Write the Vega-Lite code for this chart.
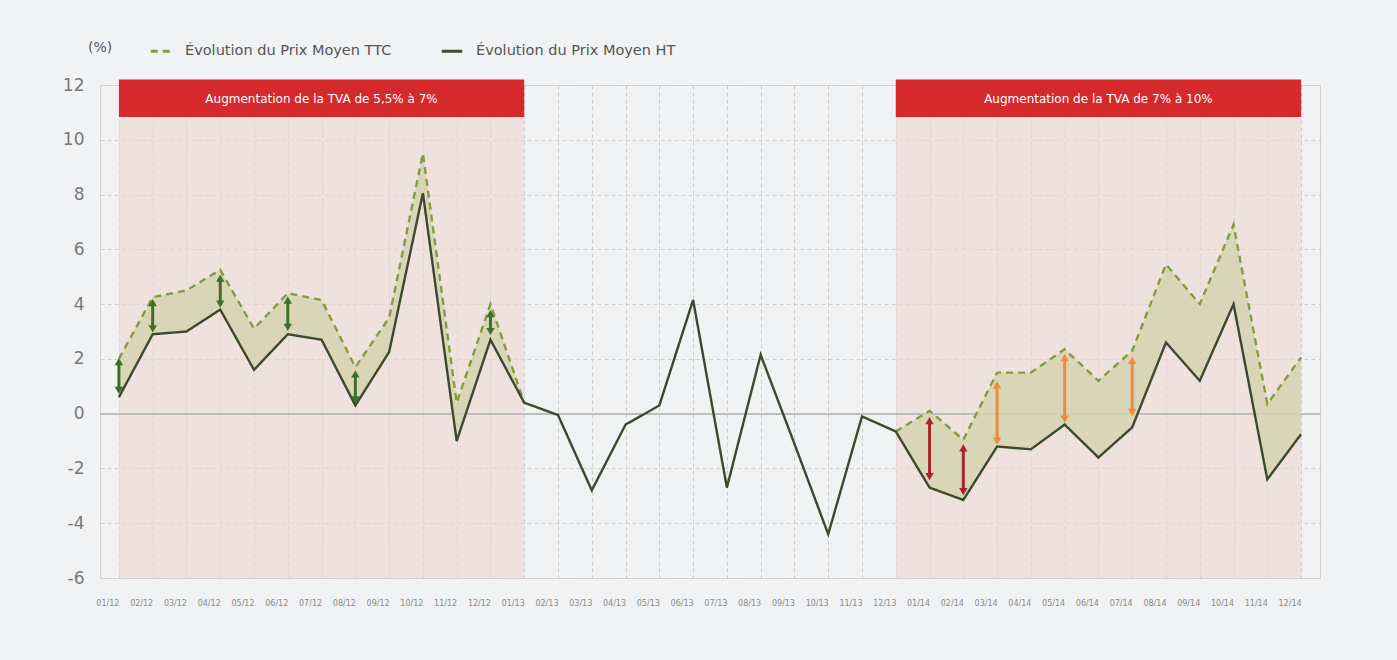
{
  "$schema": "https://vega.github.io/schema/vega-lite/v6.json",
  "width": 1220,
  "height": 493,
  "autosize": {"type": "none"},
  "padding": {"left": 100, "top": 85, "right": 77, "bottom": 82},
  "background": "#f1f2f4",
  "config": {
    "view": {"stroke": "#d2d2d2", "strokeWidth": 1},
    "font": "DejaVu Sans",
    "axis": {"domain": false, "ticks": false, "zindex": 0, "gridColor": "#cdcdcd", "gridDash": [4, 3], "gridWidth": 1, "labelColor": "#777777"}
  },
  "datasets": {
    "rows": [
      {"m": "01/12", "HT": 0.6, "TTC": 2.0, "at": 1.9, "ab": 0.85, "k": "v"},
      {"m": "02/12", "HT": 2.9, "TTC": 4.25, "at": 4.05, "ab": 3.1, "k": "v"},
      {"m": "03/12", "HT": 3.0, "TTC": 4.5, "at": null, "ab": null, "k": null},
      {"m": "04/12", "HT": 3.8, "TTC": 5.25, "at": 4.95, "ab": 4.0, "k": "v"},
      {"m": "05/12", "HT": 1.6, "TTC": 3.1, "at": null, "ab": null, "k": null},
      {"m": "06/12", "HT": 2.9, "TTC": 4.4, "at": 4.15, "ab": 3.15, "k": "v"},
      {"m": "07/12", "HT": 2.7, "TTC": 4.15, "at": null, "ab": null, "k": null},
      {"m": "08/12", "HT": 0.3, "TTC": 1.7, "at": 1.45, "ab": 0.5, "k": "v"},
      {"m": "09/12", "HT": 2.25, "TTC": 3.5, "at": null, "ab": null, "k": null},
      {"m": "10/12", "HT": 8.05, "TTC": 9.5, "at": null, "ab": null, "k": null},
      {"m": "11/12", "HT": -1.0, "TTC": 0.4, "at": null, "ab": null, "k": null},
      {"m": "12/12", "HT": 2.7, "TTC": 4.0, "at": 3.65, "ab": 3.0, "k": "v"},
      {"m": "01/13", "HT": 0.4, "TTC": 0.4, "at": null, "ab": null, "k": null},
      {"m": "02/13", "HT": -0.05, "TTC": null, "at": null, "ab": null, "k": null},
      {"m": "03/13", "HT": -2.8, "TTC": null, "at": null, "ab": null, "k": null},
      {"m": "04/13", "HT": -0.4, "TTC": null, "at": null, "ab": null, "k": null},
      {"m": "05/13", "HT": 0.3, "TTC": null, "at": null, "ab": null, "k": null},
      {"m": "06/13", "HT": 4.15, "TTC": null, "at": null, "ab": null, "k": null},
      {"m": "07/13", "HT": -2.7, "TTC": null, "at": null, "ab": null, "k": null},
      {"m": "08/13", "HT": 2.15, "TTC": null, "at": null, "ab": null, "k": null},
      {"m": "09/13", "HT": -1.1, "TTC": null, "at": null, "ab": null, "k": null},
      {"m": "10/13", "HT": -4.4, "TTC": null, "at": null, "ab": null, "k": null},
      {"m": "11/13", "HT": -0.1, "TTC": null, "at": null, "ab": null, "k": null},
      {"m": "12/13", "HT": -0.65, "TTC": -0.65, "at": null, "ab": null, "k": null},
      {"m": "01/14", "HT": -2.7, "TTC": 0.1, "at": -0.25, "ab": -2.3, "k": "r"},
      {"m": "02/14", "HT": -3.15, "TTC": -0.95, "at": -1.25, "ab": -2.85, "k": "r"},
      {"m": "03/14", "HT": -1.2, "TTC": 1.5, "at": 1.05, "ab": -1.0, "k": "o"},
      {"m": "04/14", "HT": -1.3, "TTC": 1.5, "at": null, "ab": null, "k": null},
      {"m": "05/14", "HT": -0.4, "TTC": 2.35, "at": 2.05, "ab": -0.2, "k": "o"},
      {"m": "06/14", "HT": -1.6, "TTC": 1.2, "at": null, "ab": null, "k": null},
      {"m": "07/14", "HT": -0.5, "TTC": 2.3, "at": 1.95, "ab": 0.05, "k": "o"},
      {"m": "08/14", "HT": 2.6, "TTC": 5.45, "at": null, "ab": null, "k": null},
      {"m": "09/14", "HT": 1.2, "TTC": 4.0, "at": null, "ab": null, "k": null},
      {"m": "10/14", "HT": 4.0, "TTC": 6.9, "at": null, "ab": null, "k": null},
      {"m": "11/14", "HT": -2.4, "TTC": 0.35, "at": null, "ab": null, "k": null},
      {"m": "12/14", "HT": -0.75, "TTC": 2.05, "at": null, "ab": null, "k": null}
    ],
    "bands": [
      {"a": "01/12", "b": "01/13", "c": "07/12", "t": "Augmentation de la TVA de 5,5% à 7%"},
      {"a": "12/13", "b": "12/14", "c": "06/14", "t": "Augmentation de la TVA de 7% à 10%"}
    ]
  },
  "layer": [
    {
      "data": {"name": "bands"},
      "mark": {"type": "rect", "color": "#efd7cf", "opacity": 0.6},
      "encoding": {
        "x": {"field": "a", "type": "ordinal", "title": null},
        "x2": {"field": "b"},
        "y": {"datum": -6, "type": "quantitative", "title": null},
        "y2": {"datum": 10.83}
      }
    },
    {
      "data": {"name": "rows"},
      "mark": {"type": "rule", "color": "#bdbdbd", "strokeWidth": 1.5},
      "encoding": {"y": {"datum": 0, "type": "quantitative", "title": null}}
    },
    {
      "data": {"name": "rows"},
      "mark": {"type": "area", "color": "#d3d2ad", "opacity": 0.8, "invalid": "break-paths-show-domains"},
      "encoding": {
        "x": {"field": "m", "type": "ordinal", "sort": null, "title": null},
        "y": {"field": "TTC", "type": "quantitative", "title": null},
        "y2": {"field": "HT"}
      }
    },
    {
      "data": {"name": "rows"},
      "transform": [{"fold": ["TTC", "HT"], "as": ["s", "v"]}],
      "mark": {"type": "line", "strokeWidth": 2.4, "invalid": "break-paths-show-domains"},
      "encoding": {
        "x": {
          "field": "m", "type": "ordinal", "sort": null, "title": null,
          "scale": {"type": "point", "padding": 0.56, "domain": ["01/12","02/12","03/12","04/12","05/12","06/12","07/12","08/12","09/12","10/12","11/12","12/12","01/13","02/13","03/13","04/13","05/13","06/13","07/13","08/13","09/13","10/13","11/13","12/13","01/14","02/14","03/14","04/14","05/14","06/14","07/14","08/14","09/14","10/14","11/14","12/14"]},
          "axis": {"labelAngle": 0, "labelFontSize": 8, "labelPadding": 25, "grid": true, "labelColor": "#8a8a8a"}
        },
        "y": {
          "field": "v", "type": "quantitative", "title": null,
          "scale": {"domain": [-6, 12], "nice": false, "zero": false},
          "axis": {"values": [-6, -4, -2, 0, 2, 4, 6, 8, 10, 12], "labelExpr": "'' + datum.value", "labelFontSize": 17, "labelPadding": 16, "grid": true}
        },
        "color": {
          "field": "s", "type": "nominal", "title": "(%)",
          "scale": {"domain": ["TTC", "HT"], "range": ["#7f9f3f", "#3b4a2f"]},
          "legend": {
            "orient": "none", "legendX": -12, "legendY": -46, "direction": "horizontal",
            "titleOrient": "left", "titleFontSize": 14, "titleFontWeight": "normal", "titleColor": "#555555", "titlePadding": 36,
            "labelFontSize": 14.5, "labelLimit": 0, "labelColor": "#555555", "labelOffset": 12, "columnPadding": 44,
            "symbolType": "stroke", "symbolSize": 420, "symbolStrokeWidth": 2.8,
            "labelExpr": "datum.label == 'TTC' ? 'Évolution du Prix Moyen TTC' : 'Évolution du Prix Moyen HT'"
          }
        },
        "strokeDash": {
          "field": "s", "type": "nominal", "title": "(%)",
          "scale": {"domain": ["TTC", "HT"], "range": [[7, 5], [1, 0]]}
        }
      }
    },
    {
      "data": {"name": "rows"},
      "transform": [{"filter": "datum.at != null"}],
      "mark": {"type": "rule", "strokeWidth": 3},
      "encoding": {
        "x": {"field": "m", "type": "ordinal", "sort": null, "title": null},
        "y": {"field": "at", "type": "quantitative", "title": null},
        "y2": {"field": "ab"},
        "color": {"condition": [{"test": "datum.k == 'r'", "value": "#a8262b"}, {"test": "datum.k == 'o'", "value": "#ef8a3a"}], "value": "#3f6e2a"}
      }
    },
    {
      "data": {"name": "rows"},
      "transform": [{"filter": "datum.at != null"}],
      "mark": {"type": "point", "shape": "triangle-up", "filled": true, "size": 70, "opacity": 1},
      "encoding": {
        "x": {"field": "m", "type": "ordinal", "sort": null, "title": null},
        "y": {"field": "at", "type": "quantitative", "title": null},
        "color": {"condition": [{"test": "datum.k == 'r'", "value": "#a8262b"}, {"test": "datum.k == 'o'", "value": "#ef8a3a"}], "value": "#3f6e2a"}
      }
    },
    {
      "data": {"name": "rows"},
      "transform": [{"filter": "datum.at != null"}],
      "mark": {"type": "point", "shape": "triangle-down", "filled": true, "size": 70, "opacity": 1},
      "encoding": {
        "x": {"field": "m", "type": "ordinal", "sort": null, "title": null},
        "y": {"field": "ab", "type": "quantitative", "title": null},
        "color": {"condition": [{"test": "datum.k == 'r'", "value": "#a8262b"}, {"test": "datum.k == 'o'", "value": "#ef8a3a"}], "value": "#3f6e2a"}
      }
    },
    {
      "data": {"name": "bands"},
      "mark": {"type": "rect", "color": "#d6292c", "opacity": 1},
      "encoding": {
        "x": {"field": "a", "type": "ordinal", "title": null},
        "x2": {"field": "b"},
        "y": {"datum": 10.83, "type": "quantitative", "title": null},
        "y2": {"datum": 12.2}
      }
    },
    {
      "data": {"name": "bands"},
      "mark": {"type": "text", "color": "#ffffff", "fontSize": 12},
      "encoding": {
        "x": {"field": "c", "type": "ordinal", "title": null},
        "y": {"datum": 11.5, "type": "quantitative", "title": null},
        "text": {"field": "t"}
      }
    }
  ]
}
